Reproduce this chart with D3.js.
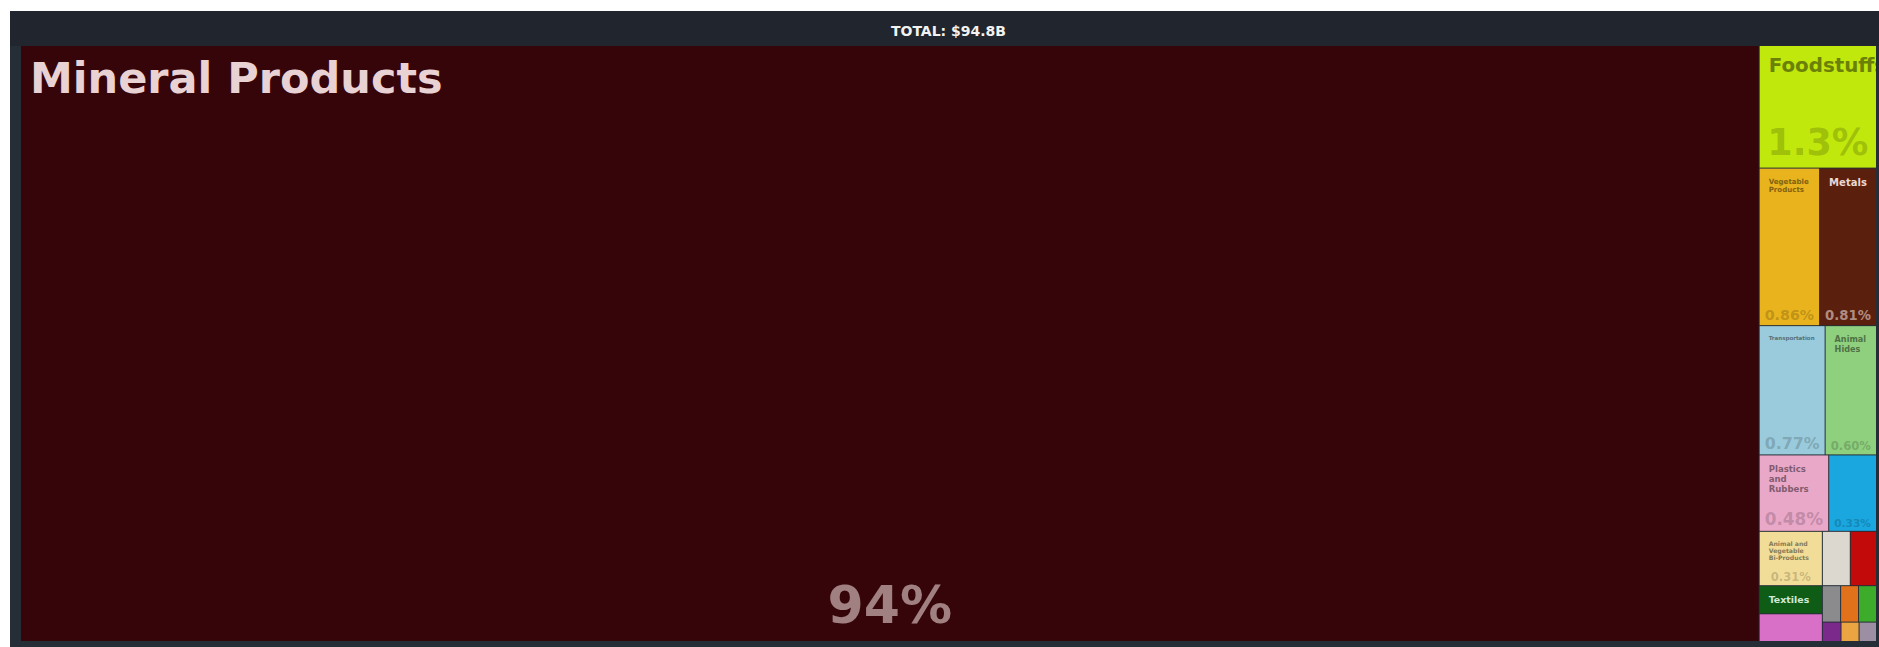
<!DOCTYPE html>
<html>
<head>
<meta charset="utf-8">
<script src="https://cdn.jsdelivr.net/npm/d3@7"></script>
<style>
  html, body { margin: 0; padding: 0; background: #ffffff; overflow: hidden; }
  svg { display: block; }
</style>
</head>
<body>
<svg id="chart" width="1879" height="647"></svg>
<script>
// Exports by product section, millions of US dollars
const sections = [
  "Mineral Products", "Foodstuffs", "Vegetable Products", "Metals",
  "Transportation", "Animal Hides", "Plastics and Rubbers", "Machines",
  "Animal and Vegetable Bi-Products", "Textiles", "Footwear and Headwear",
  "Stone And Glass", "Chemical Products", "Precious Metals", "Miscellaneous",
  "Wood Products", "Instruments", "Paper Goods", "Weapons"
];
const exportValues = [
  88780, 1232, 815, 768,
  730, 569, 455, 313,
  294, 152, 150,
  130, 122, 57, 56,
  56, 31, 30, 29
];
const sectionColors = [
  "#350509", "#c1e80c", "#e9b31d", "#5b1f0d",
  "#9acbdc", "#8ed07e", "#eaa8c9", "#1aa6de",
  "#f2dd98", "#0f5c17", "#d770c6",
  "#ddd8cf", "#c20a0a", "#8b8b8d", "#e2711b",
  "#3cac2a", "#7b2a8c", "#eba442", "#9c8ea3"
];

const W = 1879, H = 647;
const frame = { x: 10, y: 11 };
const box = { x0: 21, y0: 46, x1: 1876, y1: 641 };
const FONT = '"DejaVu Sans", Verdana, sans-serif';

const svg = d3.select("#chart");

// dark frame and title band
svg.append("rect").attr("x", frame.x).attr("y", frame.y)
  .attr("width", W - frame.x).attr("height", H - frame.y).attr("fill", "#252e37");
svg.append("rect").attr("x", frame.x).attr("y", frame.y)
  .attr("width", W - frame.x).attr("height", box.y0 - frame.y).attr("fill", "#21252d");

const data = sections.map((name, i) => ({ name, value: exportValues[i], color: sectionColors[i] }));
const total = d3.sum(exportValues);

svg.append("text")
  .attr("x", (frame.x + W) / 2 + 4).attr("y", 36)
  .attr("text-anchor", "middle")
  .attr("font-family", FONT).attr("font-weight", "bold").attr("font-size", 14)
  .attr("fill", "#f2f2f2")
  .text("TOTAL: $" + d3.format(".1f")(total / 1000) + "B");

const root = d3.hierarchy({ children: data })
  .sum(d => d.value || 0)
  .sort((a, b) => b.value - a.value);

d3.treemap()
  .size([box.x1 - box.x0, box.y1 - box.y0])
  .tile(d3.treemapSquarify)
  .paddingInner(1)
  .round(false)(root);

// text measurement
const ctx = document.createElement("canvas").getContext("2d");
function measure(str, size) {
  ctx.font = `bold ${size}px ${FONT}`;
  return ctx.measureText(str).width;
}
function wrap(words, size, availW) {
  const lines = [];
  let line = words[0];
  for (let i = 1; i < words.length; i++) {
    const test = line + " " + words[i];
    if (measure(test, size) <= availW) line = test;
    else { lines.push(line); line = words[i]; }
  }
  lines.push(line);
  return lines;
}
const PAD = 9, LH = 1.15, MIN_NAME = 5.2, MIN_NAME_W = 50, MIN_SHARE = 6;

// largest name size (up to a cap) whose wrapped lines fit the cell
function fitName(name, w, h) {
  if (w < MIN_NAME_W) return null;
  const availW = w - 2 * PAD;
  const allow = w > 100 ? 1.2 : 1.0;
  const words = name.split(" ");
  let s = Math.min(43, w * 0.22);
  while (s >= MIN_NAME) {
    const lines = wrap(words, s, availW);
    const widest = d3.max(words, t => measure(t, s));
    if (widest <= availW * allow && lines.length * s * LH <= h * 0.4) return { s, lines };
    s -= 0.25;
  }
  return null;
}

const pctFmt = p => (p >= 10 ? d3.format(".0f")(p) : p >= 1 ? d3.format(".1f")(p) : d3.format(".2f")(p)) + "%";

function textColors(bg) {
  const c = d3.rgb(bg);
  const lum = 0.299 * c.r + 0.587 * c.g + 0.114 * c.b;
  if (lum < 110) {
    const h = d3.hsl(bg).h;
    return { name: d3.hsl(h, 0.35, 0.87).formatHex(), shareOpacity: 0.6 };
  }
  return { name: d3.rgb(c.r * 0.55, c.g * 0.55, c.b * 0.55).formatHex(), shareOpacity: 0.4 };
}

const g = svg.append("g").attr("transform", `translate(${box.x0},${box.y0})`);
const cells = g.selectAll("g.cell").data(root.leaves()).join("g")
  .attr("class", "cell")
  .attr("transform", d => `translate(${d.x0},${d.y0})`);

cells.append("clipPath").attr("id", (d, i) => "clip" + i)
  .append("rect").attr("width", d => d.x1 - d.x0).attr("height", d => d.y1 - d.y0);

cells.append("rect")
  .attr("width", d => d.x1 - d.x0)
  .attr("height", d => d.y1 - d.y0)
  .attr("fill", d => d.data.color);

cells.each(function (d, i) {
  const w = d.x1 - d.x0, h = d.y1 - d.y0;
  const cg = d3.select(this).append("g").attr("clip-path", `url(#clip${i})`);
  const col = textColors(d.data.color);

  const fit = fitName(d.data.name, w, h);
  let nameBottom = 0;
  if (fit) {
    fit.lines.forEach((line, k) => {
      cg.append("text")
        .attr("x", PAD)
        .attr("y", PAD + fit.s * 0.88 + k * fit.s * LH)
        .attr("font-family", FONT).attr("font-weight", "bold")
        .attr("font-size", fit.s)
        .attr("fill", col.name)
        .text(line);
    });
    nameBottom = PAD + fit.lines.length * fit.s * LH;
  }

  const share = pctFmt(d.value / total * 100);
  const shareSize = Math.min(52, (w - 10) / measure(share, 1), h * 0.3, (h - nameBottom) * 0.5);
  if (h >= 40 && shareSize >= MIN_SHARE) {
    cg.append("text")
      .attr("x", w / 2)
      .attr("y", h - Math.max(3, shareSize * 0.35))
      .attr("text-anchor", "middle")
      .attr("font-family", FONT).attr("font-weight", "bold")
      .attr("font-size", shareSize)
      .attr("fill", col.name)
      .attr("fill-opacity", col.shareOpacity)
      .text(share);
  }
});
</script>
</body>
</html>
